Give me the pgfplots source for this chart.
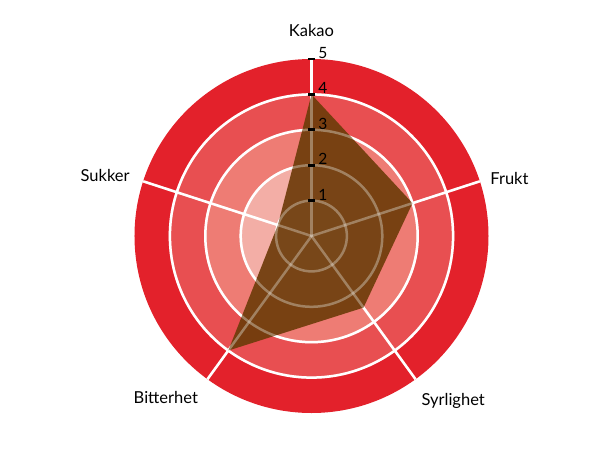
\documentclass[border=0pt]{standalone}
\usepackage{fontspec}
\setmainfont{Lato}
\usepackage{pgfplots}
\pgfplotsset{compat=1.18}
\usepgfplotslibrary{polar}
\usetikzlibrary{calc}

\definecolor{ring5}{HTML}{E3212B}
\definecolor{ring4}{HTML}{E84F51}
\definecolor{ring3}{HTML}{EE7C74}
\definecolor{ring2}{HTML}{F3AEA6}
\definecolor{ring1}{HTML}{F8D2CC}
\definecolor{choco}{HTML}{6E3C0A}

% filled disc / circle of radius #1 (data units) around the centre
\newcommand\disc[2]{\fill[#2] let \p1=(axis cs:0,0), \p2=(axis cs:0,#1),
  \n1={veclen(\x2-\x1,\y2-\y1)} in (\p1) circle[radius=\n1];}
\newcommand\ring[2]{\draw[#2] let \p1=(axis cs:0,0), \p2=(axis cs:0,#1),
  \n1={veclen(\x2-\x1,\y2-\y1)} in (\p1) circle[radius=\n1];}
\newcommand\webgrid[1]{%
  \ring{1}{#1}\ring{2}{#1}\ring{3}{#1}\ring{4}{#1}
  \draw[#1] (axis cs:90,0) -- (axis cs:90,5);
  \draw[#1] (axis cs:18,0) -- (axis cs:18,5);
  \draw[#1] (axis cs:306,0) -- (axis cs:306,5);
  \draw[#1] (axis cs:234,0) -- (axis cs:234,5);
  \draw[#1] (axis cs:162,0) -- (axis cs:162,5);
}

\begin{document}
\begin{tikzpicture}
\path[use as bounding box] (0,0) rectangle (610pt,450pt);
\begin{polaraxis}[
  at={(311.5pt,214pt)}, anchor=origin,
  width=354pt, height=354pt, scale only axis,
  xmin=0, xmax=360, ymin=0, ymax=5,
  hide axis,
  clip=false,
  font=\fontsize{16.5}{18}\selectfont,
]
% background bands
\disc{5}{ring5}
\disc{4}{ring4}
\disc{3}{ring3}
\disc{2}{ring2}
\disc{1}{ring1}
\webgrid{white, line width=2.5pt}

% flavour profile: angle, value
\addplot[fill=choco, fill opacity=0.92, draw=none] coordinates {
  (90,4) (18,3) (306,2.5) (234,4) (162,1) (90,4)};

\webgrid{white, opacity=0.3, line width=2.5pt}

% scale on the Kakao spoke
\addplot[only marks, mark=-, mark size=3.5pt,
  mark options={black, line width=2.8pt},
  point meta=explicit symbolic,
  nodes near coords,
  nodes near coords style={anchor=base west, inner sep=0pt,
    xshift=5.5pt, yshift=0.5pt, text=black,
    font=\fontsize{15.5}{17}\selectfont},
] coordinates {(90,1)[1] (90,2)[2] (90,3)[3] (90,4)[4] (90,5)[5]};

\node[anchor=base, yshift=22pt] at (axis cs:90,5) {Kakao};
\node[anchor=base west, xshift=7pt, yshift=-3pt] at (axis cs:18,5) {Frukt};
\node[anchor=base west, xshift=2.5pt, yshift=-26pt] at (axis cs:306,5) {Syrlighet};
\node[anchor=base east, xshift=-6pt, yshift=-24pt] at (axis cs:234,5) {Bitterhet};
\node[anchor=base east, xshift=-10pt, yshift=0pt] at (axis cs:162,5) {Sukker};
\end{polaraxis}
\end{tikzpicture}
\end{document}
